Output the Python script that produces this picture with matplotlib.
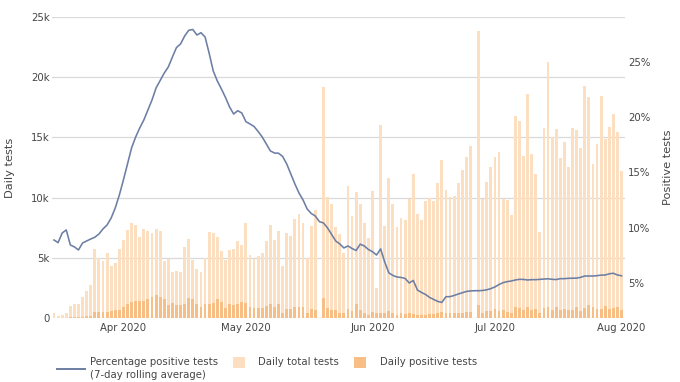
import numpy as np
import pandas as pd
import matplotlib
matplotlib.use("Agg")
import matplotlib.pyplot as plt
from matplotlib.lines import Line2D
from matplotlib.patches import Rectangle

plt.rcParams['font.family'] = ['DejaVu Sans']

start_date = '2020-03-15'
N = None

daily_total = [
    450, 170, 280, 440, 1000, 1200, 1200, 1770, 2240, 2730,
    5700, 5000, 4750, 5360, 4360, 4560, 5700, 6460, 7350, 7900,
    7700, 6740, 7380, 7260, 7070, 7380, 7200, 4700, 4860, 3840,
    3920, 3840, 5880, 6520, 4800, 4100, 3810, 5000, 7130, 7040,
    6740, 5600, 4800, 5660, 5770, 6400, 6100, 7900, 5200, 4940,
    5160, 5400, 6400, 7700, 6500, 7260, 4360, 7070, 6850, 8260,
    8600, 7930, 5000, 7600, 9000, N, 19200,
    10050, 9440, 7570, 6960, 5360, 10940, 8450, 10440, 9440, 7850,
    6630, 10550, 2490, 16070, 7680, 11600, 9500, 7570, 8280, 8120,
    9890, 11990, 8620, 8180, 9720, 10000, 9720, 11200, 13090, 10600,
    10050, 10100, 11200, 12260, 13360, 14250, N, 23860,
    9920, 11270, 12540, 13360, 13810, 9890, 9780, 8560, 16740, 16400,
    13480, 18620, 13650, 11930, 7130, 15740, 21300, 15020, 15690, 13310,
    14640, 12540, 15800, 15630, 14080, 19280, 18390, 12820, 14470, 18450,
    14900, 15850, 16960, 15410, 12200,
]

daily_positive = [
    20, 10, 20, 30, 60, 80, 90, 120, 150, 200,
    470, 470, 470, 470, 580, 640, 660, 940, 1200, 1350,
    1440, 1380, 1440, 1550, 1710, 1880, 1710, 1550, 1100, 1270,
    1080, 1080, 1160, 1630, 1570, 1160, 940, 1200, 1160, 1270,
    1550, 1350, 800, 1160, 1080, 1200, 1300, 1270, 940, 800,
    800, 830, 1000, 1200, 940, 1200, 440, 720, 720, 880,
    940, 940, 440, 720, 660, N, 1660,
    830, 660, 660, 440, 390, 720, 550, 1200, 660, 390,
    280, 500, 440, 440, 390, 600, 390, 280, 390, 330,
    390, 330, 280, 280, 280, 330, 330, 390, 500, 440,
    390, 390, 390, 440, 500, 500, N, 1050,
    390, 550, 550, 720, 600, 660, 500, 390, 880, 830,
    660, 940, 660, 720, 440, 830, 880, 660, 940, 660,
    720, 660, 660, 940, 600, 830, 1050, 940, 720, 770,
    1000, 770, 830, 940, 660,
]

pct_positive = [
    8.89, 8.65, 9.52, 9.80, 8.44, 8.26, 7.99, 8.62, 8.80, 8.98,
    9.14, 9.43, 9.89, 10.25, 10.88, 11.79, 12.96, 14.32, 15.77, 17.22,
    18.21, 19.03, 19.75, 20.66, 21.56, 22.65, 23.33, 24.00, 24.55, 25.45,
    26.31, 26.63, 27.35, 27.87, 27.94, 27.44, 27.65, 27.26, 25.79, 24.19,
    23.28, 22.56, 21.79, 20.93, 20.29, 20.59, 20.38, 19.60, 19.39, 19.16,
    18.71, 18.21, 17.58, 16.95, 16.76, 16.74, 16.45, 15.77, 14.86, 13.96,
    13.14, 12.51, 11.70, 11.29, 11.06, 10.55, 10.43, 9.98, 9.39, 8.80,
    8.53, 8.17, 8.35, 8.12, 7.94, 8.51, 8.35, 8.03, 7.83, 7.53,
    8.08, 6.90, 5.92, 5.68, 5.54, 5.50, 5.41, 5.00, 5.23, 4.37,
    4.14, 3.96, 3.69, 3.51, 3.33, 3.24, 3.76, 3.76, 3.87, 4.00,
    4.11, 4.23, 4.28, 4.30, 4.30, 4.32, 4.38, 4.49, 4.64, 4.86,
    5.03, 5.12, 5.18, 5.27, 5.33, 5.32, 5.27, 5.30, 5.30, 5.33,
    5.36, 5.38, 5.33, 5.31, 5.39, 5.39, 5.42, 5.43, 5.44, 5.51,
    5.63, 5.63, 5.63, 5.66, 5.71, 5.72, 5.83, 5.88, 5.72, 5.65,
]

left_ticks = [0, 5000, 10000, 15000, 20000, 25000]
left_tick_labels = ['0', '5k', '10k', '15k', '20k', '25k']
right_ticks = [5, 10, 15, 20, 25]
right_tick_labels = ['5%', '10%', '15%', '20%', '25%']
month_ticks = ['2020-04-01', '2020-05-01', '2020-06-01', '2020-07-01', '2020-08-01']
legend_labels = ['Percentage positive tests', '(7-day rolling average)',
                 'Daily total tests', 'Daily positive tests']

C_TOTAL = '#fcdfc1'
C_POS = '#f7bf86'
C_LINE = '#6c7ea3'
C_TEXT = '#454545'
C_GRID = '#d9d9d9'

W, H = 680, 382
fig = plt.figure(figsize=(W / 100, H / 100), dpi=100)
L, R, T, B = 52, 625, 17, 318
ax = fig.add_axes([L / W, 1 - B / H, (R - L) / W, (B - T) / H])

dates = pd.date_range(start_date, periods=len(daily_total), freq='D')
tot = np.array([np.nan if v is None else v for v in daily_total], dtype=float)
pos = np.array([np.nan if v is None else v for v in daily_positive], dtype=float)

ax.bar(dates, tot, width=0.7, color=C_TOTAL, zorder=2, linewidth=0)
ax.bar(dates, pos, width=0.7, color=C_POS, zorder=3, linewidth=0)
ax.set_ylim(0, 25000)
ax.set_yticks(left_ticks)
ax.set_yticklabels(left_tick_labels)
ax.grid(axis='y', color=C_GRID, linewidth=0.9, zorder=0)
ax.set_axisbelow(True)
for s in ax.spines.values():
    s.set_visible(False)

x0 = pd.Timestamp(start_date) - pd.Timedelta(hours=11.8)
x1 = dates[-1] + pd.Timedelta(hours=20.5)
ax.set_xlim(x0, x1)
ax.set_xticks(pd.to_datetime(month_ticks))
ax.set_xticklabels([pd.Timestamp(d).strftime('%b %Y') for d in month_ticks])
ax.tick_params(axis='x', length=0, pad=3.5, labelsize=7.3, colors=C_TEXT)
ax.tick_params(axis='y', length=0, pad=1.8, labelsize=7.3, colors=C_TEXT)

ax2 = ax.twinx()
ax2.plot(dates, pct_positive, color=C_LINE, linewidth=1.15, zorder=5)
ax2.set_ylim(1.83, 29.07)
ax2.set_yticks(right_ticks)
ax2.set_yticklabels(right_tick_labels)
ax2.tick_params(axis='y', length=0, pad=2.3, labelsize=7.3, colors=C_TEXT)
for s in ax2.spines.values():
    s.set_visible(False)
ax2.set_xlim(x0, x1)

yc = 1 - ((T + B) / 2) / H
fig.text(10 / W, yc, 'Daily tests', rotation=90, ha='center', va='center',
         fontsize=8.2, color=C_TEXT)
fig.text(668 / W, yc, 'Positive tests', rotation=90, ha='center', va='center',
         fontsize=8.2, color=C_TEXT)

# legend (drawn manually, plotly-style)
fy = lambda y: 1 - y / H
fig.add_artist(Line2D([57 / W, 85 / W], [fy(369), fy(369)], color=C_LINE,
                      linewidth=1.4, transform=fig.transFigure))
fig.text(90 / W, fy(362), legend_labels[0], ha='left', va='center',
         fontsize=7.3, color=C_TEXT)
fig.text(90 / W, fy(375), legend_labels[1], ha='left', va='center',
         fontsize=7.3, color=C_TEXT)
fig.add_artist(Rectangle((233 / W, fy(368)), 12 / W, 11 / H, color=C_TOTAL,
                         transform=fig.transFigure, linewidth=0))
fig.text(258 / W, fy(362), legend_labels[2], ha='left', va='center',
         fontsize=7.3, color=C_TEXT)
fig.add_artist(Rectangle((354 / W, fy(368)), 12 / W, 11 / H, color=C_POS,
                         transform=fig.transFigure, linewidth=0))
fig.text(380 / W, fy(362), legend_labels[3], ha='left', va='center',
         fontsize=7.3, color=C_TEXT)

fig.savefig('out.png', dpi=100)
